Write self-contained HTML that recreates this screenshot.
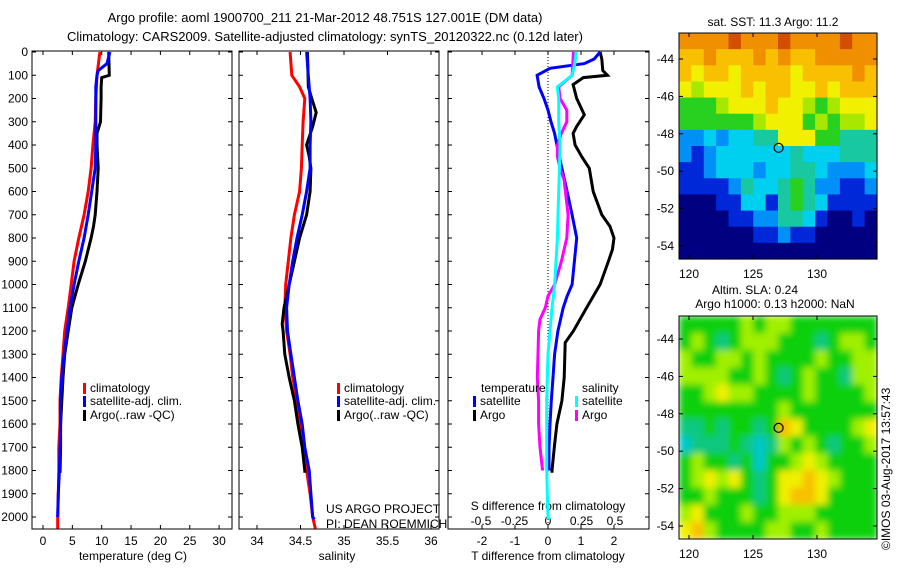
<!DOCTYPE html>
<html><head><meta charset="utf-8"><style>
html,body{margin:0;padding:0;background:#fff;}
svg{display:block;font-family:"Liberation Sans",sans-serif;}
text{font-size:12px;fill:#000;}
</style></head><body>
<svg id="c" width="900" height="580" viewBox="0 0 900 580" xmlns="http://www.w3.org/2000/svg">
<defs><filter id="blur" x="0" y="0" width="100%" height="100%"><feGaussianBlur stdDeviation="3.5"/></filter>
<clipPath id="clipm2"><rect x="679" y="316" width="198" height="223"/></clipPath></defs>
<text x="325" y="22" text-anchor="middle" style="font-size:13px">Argo profile: aoml 1900700_211 21-Mar-2012 48.751S 127.001E (DM data)</text>
<text x="325" y="41" text-anchor="middle" style="font-size:13px">Climatology: CARS2009. Satellite-adjusted climatology: synTS_20120322.nc (0.12d later)</text>
<text x="773" y="26" text-anchor="middle">sat. SST: 11.3 Argo: 11.2</text>
<text x="755" y="294" text-anchor="middle">Altim. SLA: 0.24</text>
<text x="775" y="308" text-anchor="middle">Argo h1000: 0.13 h2000: NaN</text>
<text transform="translate(890,550) rotate(-90)">©IMOS 03-Aug-2017 13:57:43</text>
<text x="326" y="513">US ARGO PROJECT</text>
<text x="326" y="528">PI: DEAN ROEMMICH</text>
<g id="g"></g>
</svg>
<script>
// ---- data ----
const depthTemp=[0,100,200,300,400,500,600,700,800,900,1000,1100,1200,1300,1400,1500,1600,1700,1800,1900,2000,2050];
const tempClim=[9.7,9.2,9.0,8.9,8.5,8.2,7.7,7.0,6.1,5.3,4.8,4.3,3.7,3.4,3.1,2.9,2.9,2.7,2.7,2.6,2.5,2.5];
const depthSat=[0,50,80,100,150,200,300,400,500,600,700,800,900,1000,1100,1200,1300,1400,1500,1600,1700,1800,1900,2000];
const tempSat=[11.4,10.9,9.4,9.2,9.0,9.0,9.0,9.0,8.9,8.3,7.7,7.0,6.1,5.3,4.6,4.1,3.6,3.2,3.0,3.0,2.9,2.8,2.6,2.5];
const depthArgo=[0,100,110,150,200,300,350,400,500,600,700,750,800,900,1000,1100,1200,1300,1400,1500,1600,1700,1810];
const tempArgo=[11.2,11.3,10.0,9.9,9.9,9.8,9.2,9.2,9.4,9.2,8.9,8.6,8.2,7.2,6.0,4.9,4.3,3.7,3.4,3.2,3.0,3.0,2.9];
const depthSal=[0,100,150,200,300,400,500,600,700,800,900,1000,1100,1200,1300,1400,1500,1600,1700,1800,1900,2000,2050];
const salClim=[34.38,34.40,34.49,34.55,34.53,34.52,34.51,34.49,34.43,34.39,34.36,34.33,34.32,34.34,34.38,34.41,34.46,34.49,34.54,34.57,34.61,34.64,34.67];
const depthSalSat=[0,100,200,300,400,500,600,700,800,900,1000,1100,1200,1300,1400,1500,1600,1700,1800,1900,2000,2010];
const salSat=[34.57,34.59,34.61,34.62,34.61,34.61,34.57,34.52,34.46,34.41,34.37,34.34,34.35,34.39,34.43,34.47,34.52,34.55,34.60,34.62,34.64,34.66];
const depthSalArgo=[0,150,200,260,320,400,450,500,600,700,800,900,1000,1100,1170,1200,1300,1400,1500,1600,1700,1800,1810];
const salArgo=[34.58,34.59,34.63,34.68,34.64,34.57,34.60,34.62,34.61,34.57,34.49,34.43,34.37,34.31,34.29,34.30,34.32,34.37,34.43,34.47,34.52,34.55,34.55];
const depthDT=[0,30,50,70,100,150,200,250,300,350,400,500,600,700,750,800,900,1000,1050,1100,1200,1300,1400,1500,1600,1700,1800];
const dTSat=[1.58,1.4,1.1,0.06,-0.33,-0.27,-0.12,0,0.09,0.2,0.27,0.42,0.58,0.73,0.8,0.87,0.8,0.73,0.58,0.46,0.3,0.2,0.15,0.1,0.06,0.03,0.03];
const depthDTA=[0,30,80,100,110,140,200,270,320,350,400,450,500,600,700,750,800,850,900,1000,1100,1200,1250,1400,1500,1600,1700,1800,1810];
const dTArgo=[1.58,1.63,1.66,1.8,1.07,0.76,0.87,1.1,0.87,0.76,0.82,1.02,1.25,1.37,1.63,1.88,2.0,1.95,1.83,1.58,1.17,0.77,0.52,0.49,0.42,0.27,0.19,0.12,0.12];
const depthDS=[0,50,100,150,200,300,400,500,600,700,800,900,1000,1100,1200,1300,1400,1500,1600,1700,1800,1900,2000,2010];
const dSSat=[0.21,0.20,0.18,0.07,0.08,0.08,0.09,0.085,0.08,0.075,0.07,0.06,0.05,0.03,0.015,0,-0.005,-0.01,-0.01,-0.01,-0.01,-0.005,0,0.015];
const depthDSA=[0,100,150,200,250,300,350,400,450,500,550,600,700,800,900,1000,1050,1100,1150,1200,1300,1400,1500,1600,1700,1750,1800];
const dSArgo=[0.19,0.18,0.08,0.09,0.14,0.14,0.1,0.07,0.07,0.09,0.12,0.13,0.15,0.14,0.1,0.05,0,-0.02,-0.06,-0.07,-0.075,-0.08,-0.07,-0.07,-0.06,-0.05,-0.04];
const depthTicks=[0,100,200,300,400,500,600,700,800,900,1000,1100,1200,1300,1400,1500,1600,1700,1800,1900,2000];
const tempTicks=[0,5,10,15,20,25,30];
const salTicks=[34,34.5,35,35.5,36];
const dTTicks=[-2,-1,0,1,2];
const dSTicks=[-0.5,-0.25,0,0.25,0.5];
const sstLatTicks=[-44,-46,-48,-50,-52,-54];
const lonTicks=[120,125,130];
const sstGrid=[
[9,9,9,9,10,9,9,9,10,9,9,9,9,10,9,9],
[8,8,9,8,8,8,9,8,9,8,8,9,9,9,9,9],
[8,7,8,8,7,8,8,8,8,7,8,8,8,8,9,8],
[7,6,7,7,7,8,7,8,8,7,7,8,7,8,8,8],
[5,5,5,6,7,7,7,8,7,7,6,5,6,7,7,7],
[5,5,5,5,5,5,6,7,7,7,5,6,5,6,6,7],
[2,2,3,2,3,3,4,4,7,7,7,5,5,4,4,4],
[2,1,2,3,3,3,3,3,3,4,3,3,3,4,4,4],
[1,1,2,3,3,3,2,3,3,4,4,3,2,2,2,3],
[1,1,1,1,2,4,3,3,4,5,4,2,2,1,1,2],
[0,0,0,1,1,3,3,1,4,5,4,3,1,1,1,1],
[0,0,0,0,1,1,2,2,4,4,3,1,0,0,1,0],
[0,0,0,0,0,0,1,1,2,1,1,0,0,0,0,0],
[0,0,0,0,0,0,0,0,0,0,0,0,0,0,0,0]];
const slaGrid=[
[5,5,5,5,5,6,5,6,6,5,5,5,5,5,5,5],
[5,6,5,4,5,6,6,6,5,5,5,4,5,6,6,5],
[6,5,5,6,6,5,6,5,5,5,5,6,5,5,6,6],
[6,6,6,6,5,5,6,5,4,5,6,5,5,4,6,6],
[5,5,6,7,6,6,5,5,5,5,6,5,5,5,5,6],
[5,5,5,5,5,5,5,5,6,5,5,5,5,5,5,5],
[4,4,5,4,5,5,4,5,8,7,5,5,5,5,6,7],
[3,4,4,4,5,4,3,4,6,5,6,5,4,5,5,6],
[5,6,5,5,4,5,3,5,5,6,7,6,5,5,5,5],
[5,6,7,6,7,5,4,5,7,7,8,7,6,5,5,5],
[5,5,6,5,5,5,4,5,7,8,8,7,5,5,5,5],
[6,7,5,5,5,6,5,5,6,6,6,5,5,5,5,5],
[7,8,6,5,5,5,5,6,6,5,5,6,5,5,5,5]];
const cmap=["#000080","#0028d8","#0090f8","#00d0f0","#18c8a0","#28d020","#a8e800","#f0f000","#f8c000","#f09000","#d05000"];
const cmapSla=["#000080","#0028d8","#0090f8","#00c8c8","#10c880","#10d010","#a0f000","#f0f000","#f8c000","#f09000","#d05000"];
const floatLon=127.0, floatLat=-48.75;

// ---- drawing ----
const NS="http://www.w3.org/2000/svg";
const G=document.getElementById('g');
function el(tag,attrs,parent){const e=document.createElementNS(NS,tag);for(const k in attrs)e.setAttribute(k,attrs[k]);(parent||G).appendChild(e);return e;}
function txt(x,y,s,anchor){const t=el('text',{x:x,y:y,'text-anchor':anchor||'middle'});t.textContent=s;return t;}
const yD=d=>52+d*0.2325;
const xT=t=>43+t*5.87;
const xS=s=>257+(s-34)*87;
const xDT=v=>548+v*33;
const xDS=v=>548+v*134;
const yTop=51,bot=529;

function frame(x0,x1,name){
  const r=el('rect',{x:x0,y:yTop,width:x1-x0,height:bot-yTop,fill:'none',stroke:'#000','stroke-width':1});
  
  
  depthTicks.forEach(d=>{el('line',{x1:x0,x2:x0+4,y1:yD(d),y2:yD(d),stroke:'#000'});el('line',{x1:x1-4,x2:x1,y1:yD(d),y2:yD(d),stroke:'#000'});});
}
function xticks(vals,fx,ytext,labels){
  vals.forEach(v=>{const x=fx(v);el('line',{x1:x,x2:x,y1:bot,y2:bot-4,stroke:'#000'});el('line',{x1:x,x2:x,y1:yTop,y2:yTop+4,stroke:'#000'});
   if(labels!==false){const t=txt(x,ytext,String(v));}});
}
function line(xs,ds,fx,color,name){
  const pts=xs.map((v,i)=>fx(v).toFixed(1)+','+yD(ds[i]).toFixed(1)).join(' ');
  const p=el('polyline',{points:pts,fill:'none',stroke:color,'stroke-width':3,'stroke-linejoin':'miter'});
  
  
}
function legend(x,y,color,label){
  el('rect',{x:x,y:y-9,width:3,height:11,fill:color});
  const t=txt(x+7,y,label,'start');
  
  
}
// panel 1
frame(32,232,'temperature-panel');
depthTicks.forEach(d=>{const t=txt(28,yD(d)+4,String(d),'end');});
xticks(tempTicks,xT,545);
let t1=txt(133,560,'temperature (deg C)');
line(tempClim,depthTemp,xT,'#ff0000','temp-climatology-line');
line(tempArgo,depthArgo,xT,'#000000','temp-argo-line');
line(tempSat,depthSat,xT,'#0000ff','temp-satellite-line');
legend(83,392,'#f00','climatology');legend(83,405,'#00f','satellite-adj. clim.');legend(83,419,'#000','Argo(..raw -QC)');
// panel 2
frame(239,439,'salinity-panel');
xticks(salTicks,xS,545);
let t2=txt(337,560,'salinity');
line(salClim,depthSal,xS,'#ff0000','sal-climatology-line');
line(salArgo,depthSalArgo,xS,'#000000','sal-argo-line');
line(salSat,depthSalSat,xS,'#0000ff','sal-satellite-line');
legend(337,392,'#f00','climatology');legend(337,405,'#00f','satellite-adj. clim.');legend(337,419,'#000','Argo(..raw -QC)');
// panel 3
frame(448,649,'difference-panel');
xticks(dTTicks,xDT,545);
dSTicks.forEach(v=>{const t=txt(xDS(v),525,String(v));});
let t3=txt(548,560,'T difference from climatology');
let t4=txt(548,510,'S difference from climatology');
el('line',{x1:548,x2:548,y1:yTop,y2:bot,stroke:'#000','stroke-dasharray':'1,2'});
line(dTArgo,depthDTA,xDT,'#000000','tdiff-argo-line');
line(dTSat,depthDT,xDT,'#0000ff','tdiff-satellite-line');
line(dSArgo,depthDSA,xDS,'#ff00ff','sdiff-argo-line');
line(dSSat,depthDS,xDS,'#00ffff','sdiff-satellite-line');
txt(481,392,'temperature','start');txt(582,392,'salinity','start');
legend(473,405,'#00f','satellite');legend(473,419,'#000','Argo');
legend(575,405,'#0ff','satellite');legend(575,419,'#f0f','Argo');

// maps
function map(grid,colors,x0,y0,w,h,lat44,lat54,name,blur){
  const gx=el('g',blur?{filter:'url(#blur)','clip-path':'url(#clipm2)'}:{});
  
  
  const rows=grid.length,cols=grid[0].length,cw=w/cols,ch=h/rows;
  grid.forEach((r,i)=>r.forEach((v,j)=>{el('rect',{x:(x0+j*cw).toFixed(2),y:(y0+i*ch).toFixed(2),width:(cw+0.6).toFixed(2),height:(ch+0.6).toFixed(2),fill:colors[v]},gx);}));
  el('rect',{x:x0,y:y0,width:w,height:h,fill:'none',stroke:'#000'});
  const yl=lat=>lat44+(lat+44)/(-10)*(lat54-lat44);
  const xl=lon=>689+(lon-120)*12.8;
  sstLatTicks.forEach(l=>{const y=yl(l);el('line',{x1:x0,x2:x0+4,y1:y,y2:y,stroke:'#000'});el('line',{x1:x0+w-4,x2:x0+w,y1:y,y2:y,stroke:'#000'});const t=txt(x0-5,y+4,String(l),'end');});
  lonTicks.forEach(l=>{const x=xl(l);el('line',{x1:x,x2:x,y1:y0+h,y2:y0+h-4,stroke:'#000'});el('line',{x1:x,x2:x,y1:y0,y2:y0+4,stroke:'#000'});const t=txt(x,y0+h+19,String(l));});
  const c=el('circle',{cx:xl(floatLon),cy:yl(floatLat),r:4.5,fill:'none',stroke:'#000','stroke-width':1.2});
  
  
}
map(sstGrid,cmap,679,33,198,226,59,246,'sst-map',false);
map(slaGrid,cmapSla,679,316,198,223,339,526,'sla-map',true);
</script>
</body></html>
